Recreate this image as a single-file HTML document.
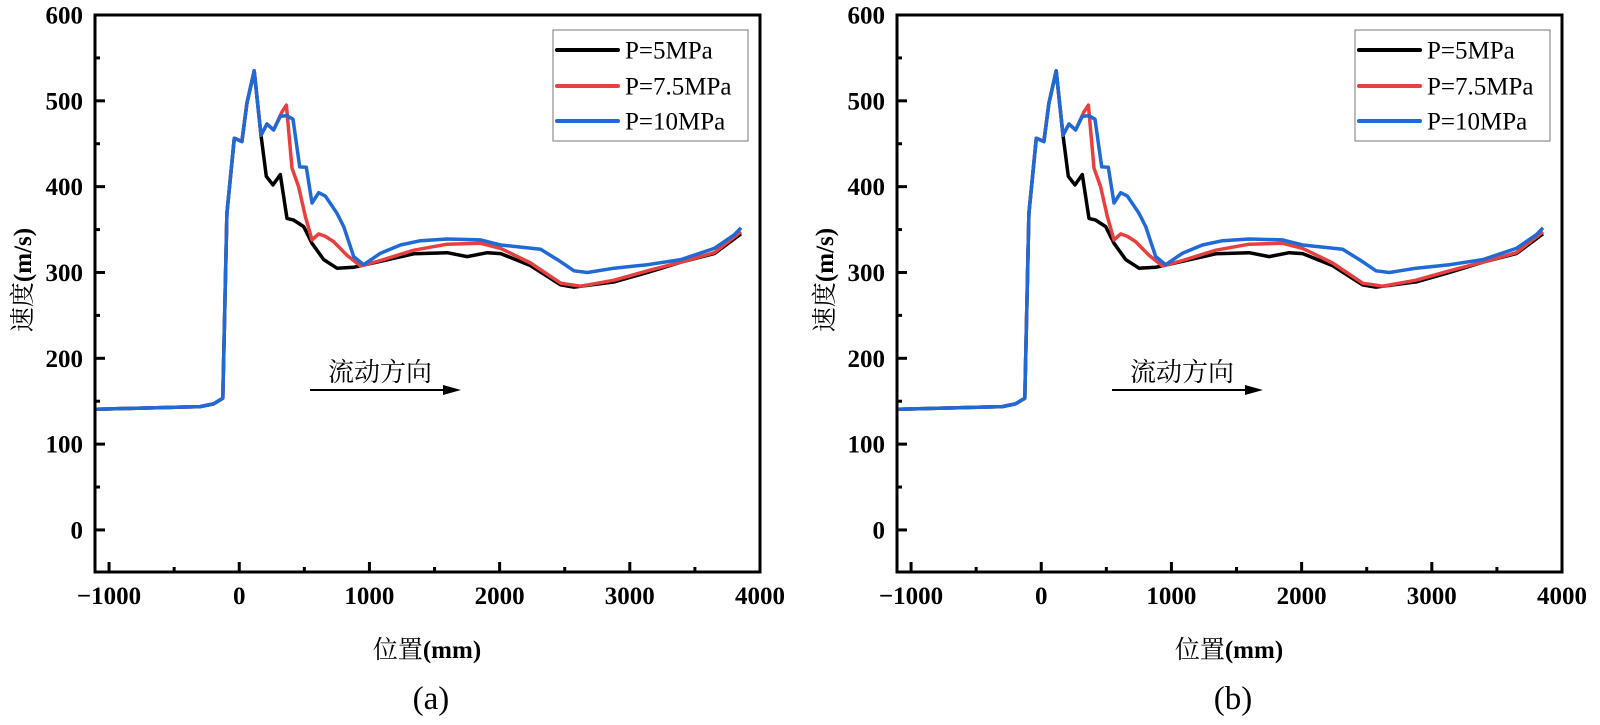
<!DOCTYPE html>
<html>
<head>
<meta charset="utf-8">
<style>
  html, body { margin: 0; padding: 0; background: #fff; }
  svg { display: block; }
  svg text { font-family: "Liberation Serif", "Noto Serif CJK SC", serif; }
</style>
</head>
<body>
<svg id="fig" width="1600" height="725" viewBox="0 0 1600 725" xmlns="http://www.w3.org/2000/svg"></svg>
<script>
// ---- data ----
const seriesNames = ["P=5MPa", "P=7.5MPa", "P=10MPa"];
const seriesColors = ["#000000", "#e8403f", "#1f6ad6"];
const xTicks = [-1000, 0, 1000, 2000, 3000, 4000];
const yTicks = [0, 100, 200, 300, 400, 500, 600];
const panelLabels = ["(a)", "(b)"];

const commonX = [-1095, -300, -198, -126, -95, -38, 20, 59, 115, 167];
const commonY = [140.7, 143.7, 146.9, 153.5, 369, 456.5, 452.6, 497, 535, 460];

const blackX = [208, 259, 315, 367, 418, 495, 559, 649, 751, 879, 1085, 1341, 1597, 1751, 1905, 2008, 2238, 2469, 2571, 2879, 3136, 3392, 3649, 3854];
const blackY = [412, 402, 414, 363, 361, 353.5, 334, 315, 305, 306, 313, 321.7, 323, 318.5, 323, 322, 308, 285.5, 283, 289, 300, 312, 322, 345];

const redX = [213, 264, 328, 362, 405, 456, 508, 559, 610, 662, 725, 828, 931, 1085, 1341, 1597, 1854, 2008, 2238, 2469, 2623, 2879, 3136, 3392, 3649, 3854];
const redY = [473, 466, 487, 495, 421.5, 400, 365, 338, 345, 342, 336, 320, 307.5, 314, 326, 333, 334, 328, 311, 287.5, 284, 291, 302, 312, 323, 347.5];

const blueX = [213, 264, 315, 367, 413, 464, 515, 559, 610, 662, 751, 802, 879, 956, 1085, 1238, 1392, 1597, 1854, 2008, 2315, 2444, 2571, 2674, 2879, 3136, 3392, 3649, 3803, 3854];
const blueY = [473, 466, 482, 482.5, 478.6, 423, 422.7, 381, 393, 389, 369, 353.5, 318.5, 309, 322.5, 332, 337, 339, 338, 332, 327, 315, 302, 300, 305, 309, 315, 328, 344, 352];

// ---- drawing ----
const NS = "http://www.w3.org/2000/svg";
const svg = document.getElementById("fig");
const X0 = 95, X1 = 760, Y0 = 15, Y1 = 572;
const XMIN = -1108, XMAX = 4000, YMIN = -49, YMAX = 600;
const SERIF = '"Liberation Serif", "Noto Serif CJK SC", serif';

function mk(tag, attrs, parent) {
  const e = document.createElementNS(NS, tag);
  for (const k in attrs) e.setAttribute(k, attrs[k]);
  if (tag === "text" && !attrs["font-family"]) e.setAttribute("font-family", SERIF);
  (parent || svg).appendChild(e);
  return e;
}

function drawPanel(off, label) {
  const g = mk("g", {transform: "translate(" + off + ",0)"});
  
  
  const sx = v => X0 + (v - XMIN) / (XMAX - XMIN) * (X1 - X0);
  const sy = v => Y1 - (v - YMIN) / (YMAX - YMIN) * (Y1 - Y0);

  const defs = [
    [commonX.concat(blackX), commonY.concat(blackY)],
    [commonX.concat(redX), commonY.concat(redY)],
    [commonX.concat(blueX), commonY.concat(blueY)]
  ];
  defs.forEach((d, i) => {
    let pts = d[0].map((x, j) => sx(x).toFixed(1) + "," + sy(d[1][j]).toFixed(1)).join(" ");
    const pl = mk("polyline", {points: pts, fill: "none", stroke: seriesColors[i], "stroke-width": 3.5, "stroke-linejoin": "round"}, g);
    
    
  });

  const fr = mk("rect", {x: X0, y: Y0, width: X1 - X0, height: Y1 - Y0, fill: "none", stroke: "#000", "stroke-width": 3}, g);
  
  

  for (let v = -1000; v <= 4000; v += 500) {
    const major = v % 1000 === 0;
    mk("line", {x1: sx(v), x2: sx(v), y1: Y1, y2: Y1 - (major ? 10 : 5), stroke: "#000", "stroke-width": 3}, g);
  }
  xTicks.forEach(v => {
    const t = mk("text", {x: sx(v), y: 604, "text-anchor": "middle", "font-size": 25, "font-weight": "bold"}, g);
    t.textContent = v < 0 ? "\u2212" + Math.abs(v) : String(v);
    
    
  });
  for (let v = 0; v <= 600; v += 50) {
    const major = v % 100 === 0;
    mk("line", {x1: X0, x2: X0 + (major ? 10 : 5), y1: sy(v), y2: sy(v), stroke: "#000", "stroke-width": 3}, g);
  }
  yTicks.forEach(v => {
    const t = mk("text", {x: 83, y: sy(v) + 8.5, "text-anchor": "end", "font-size": 25, "font-weight": "bold"}, g);
    t.textContent = String(v);
    
    
  });

  const xt = mk("text", {x: 427, y: 658, "text-anchor": "middle", "font-size": 25}, g);
  xt.innerHTML = '位置<tspan font-weight="bold">(mm)</tspan>';
  
  
  const yt = mk("text", {x: 0, y: 0, "text-anchor": "middle", "font-size": 25, transform: "translate(31,280) rotate(-90)"}, g);
  yt.innerHTML = '速度<tspan font-weight="bold">(m/s)</tspan>';
  
  

  const pl = mk("text", {x: 431, y: 709, "text-anchor": "middle", "font-size": 33}, g);
  pl.textContent = label;
  
  

  const an = mk("text", {x: 328, y: 381, "font-size": 26}, g);
  an.textContent = "流动方向";
  
  
  const ar = mk("line", {x1: 310, x2: 445, y1: 390, y2: 390, stroke: "#000", "stroke-width": 2}, g);
  
  
  mk("polygon", {points: "443,385 461,390 443,395", fill: "#000"}, g);

  const lg = mk("g", {}, g);
  
  
  mk("rect", {x: 553, y: 30, width: 195, height: 111, fill: "#fff", stroke: "#777", "stroke-width": 1}, lg);
  const ly = [50, 86, 121];
  seriesNames.forEach((n, i) => {
    const e = mk("g", {}, lg);
    
    
    mk("line", {x1: 557, x2: 618, y1: ly[i], y2: ly[i], stroke: seriesColors[i], "stroke-width": 4, "stroke-linecap": "round"}, e);
    const t = mk("text", {x: 625, y: ly[i] + 8.5, "font-size": 25}, e);
    t.textContent = n;
  });
}

drawPanel(0, panelLabels[0]);
drawPanel(802, panelLabels[1]);
</script>
</body>
</html>
